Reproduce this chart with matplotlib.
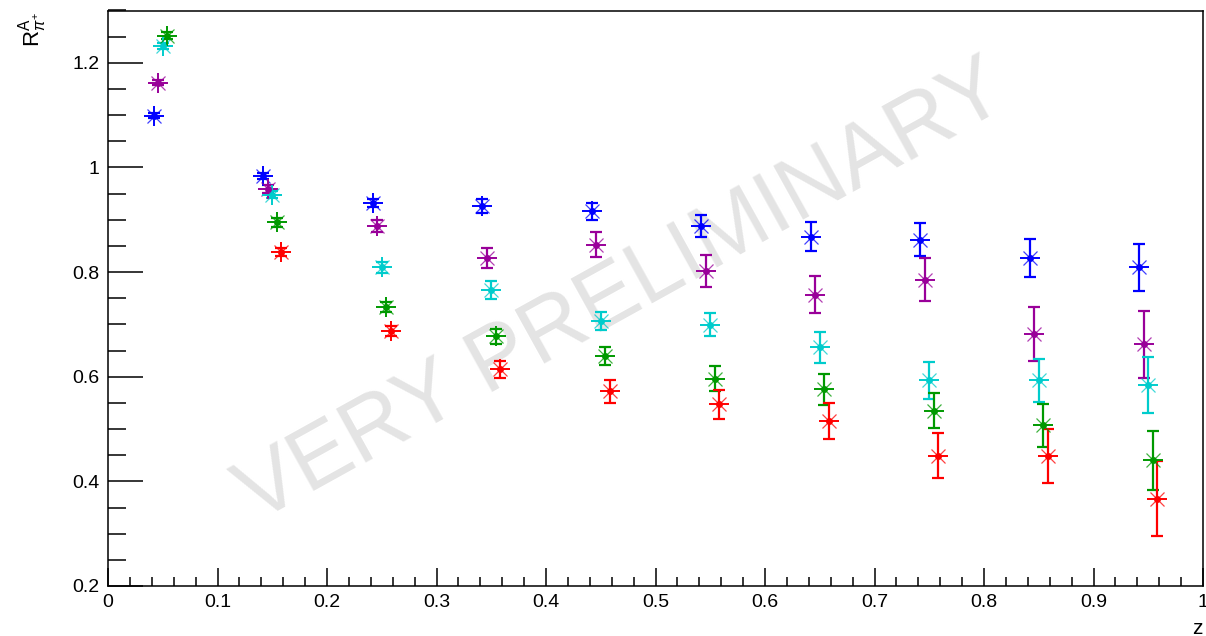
"""
R^A_pi+ vs z, five nuclear targets (ROOT-style preliminary plot)
"""

import numpy as np
import matplotlib
matplotlib.use("Agg")
import matplotlib.pyplot as plt
from matplotlib.ticker import MultipleLocator

plt.rcParams["font.family"] = ["Liberation Sans", "DejaVu Sans"]
plt.rcParams["mathtext.fontset"] = "custom"
plt.rcParams["mathtext.rm"] = "Liberation Sans"
plt.rcParams["mathtext.it"] = "Liberation Sans:italic"


# Data
z_bins = [0.05, 0.15, 0.25, 0.35, 0.45, 0.55, 0.65, 0.75, 0.85, 0.95]

blue = [1.099, 0.983, 0.932, 0.926, 0.916, 0.889, 0.868, 0.862, 0.827, 0.809]
blue_err = [0.005, 0.006, 0.008, 0.014, 0.016, 0.021, 0.028, 0.031, 0.036, 0.045]

purple = [1.162, 0.959, 0.888, 0.827, 0.852, 0.802, 0.757, 0.785, 0.682, 0.662]
purple_err = [0.005, 0.008, 0.012, 0.019, 0.024, 0.030, 0.036, 0.041, 0.052, 0.064]

cyan = [1.232, 0.948, 0.809, 0.766, 0.706, 0.699, 0.656, 0.593, 0.593, 0.584]
cyan_err = [0.006, 0.007, 0.010, 0.017, 0.017, 0.022, 0.029, 0.035, 0.041, 0.053]

green = [1.252, 0.895, 0.733, 0.677, 0.640, 0.596, 0.576, 0.535, 0.507, 0.440]
green_err = [0.006, 0.008, 0.010, 0.015, 0.017, 0.024, 0.030, 0.033, 0.041, 0.056]

# first red point is off the top of the frame
red = [np.nan, 0.839, 0.687, 0.614, 0.572, 0.547, 0.515, 0.449, 0.449, 0.367]
red_err = [np.nan, 0.008, 0.010, 0.016, 0.022, 0.028, 0.034, 0.043, 0.052, 0.072]

series = [
    (blue, blue_err, "#0000ff", -0.008),
    (purple, purple_err, "#990099", -0.004),
    (cyan, cyan_err, "#00cccc", 0.0),
    (green, green_err, "#009900", 0.004),
    (red, red_err, "#ff0000", 0.008),
]


fig = plt.figure(figsize=(12.06, 6.36), dpi=100)
ax = fig.add_axes([108 / 1206, 1 - 586 / 636, 1095 / 1206, (586 - 10.5) / 636])

for vals, errs, col, dx in series:
    x = np.array(z_bins) + dx
    y = np.array(vals)
    ax.errorbar(x, y, yerr=errs, fmt="none", ecolor=col,
                elinewidth=1.6, capsize=4, capthick=1.6, zorder=3)
    # ROOT marker 3: plus + thin diagonals + dot
    ax.plot(x, y, ls="none", marker="+", ms=14, mew=1.4, color=col, zorder=4)
    ax.plot(x, y, ls="none", marker="x", ms=10, mew=0.9, color=col, alpha=0.75, zorder=4)
    ax.plot(x, y, ls="none", marker="o", ms=4, color=col, zorder=5)

ax.set_xlim(0, 1)
ax.set_ylim(0.2, 1.3)

ax.xaxis.set_major_locator(MultipleLocator(0.1))
ax.xaxis.set_minor_locator(MultipleLocator(0.02))
ax.yaxis.set_major_locator(MultipleLocator(0.2))
ax.yaxis.set_minor_locator(MultipleLocator(0.05))

ax.set_xticks(np.arange(0, 1.01, 0.1))
ax.set_xticklabels(["0", "0.1", "0.2", "0.3", "0.4", "0.5", "0.6", "0.7", "0.8", "0.9", "1"])
ax.set_yticks([0.2, 0.4, 0.6, 0.8, 1.0, 1.2])
ax.set_yticklabels(["0.2", "0.4", "0.6", "0.8", "1", "1.2"])

ax.tick_params(axis="both", which="both", direction="in", top=False, right=False,
               labelsize=14, width=1.1, color="black")
ax.tick_params(axis="x", which="major", length=13, pad=6)
ax.tick_params(axis="x", which="minor", length=6.5)
ax.tick_params(axis="y", which="major", length=25, pad=6)
ax.tick_params(axis="y", which="minor", length=13)
for sp in ax.spines.values():
    sp.set_linewidth(1.1)

# Axis titles, ROOT-style at the ends
ax.text(1197 / 1206, 1 - 628 / 636, "z", transform=fig.transFigure,
        ha="center", va="center", fontsize=15)
fig.text(33 / 1206, 1 - 12 / 636, r"$\mathrm{R}^{\mathrm{A}}_{\pi^{+}}$",
         rotation=90, ha="center", va="top", fontsize=16)

# Watermark
ax.text(0.47, 0.76, "VERY PRELIMINARY", transform=ax.transData,
        rotation=29, ha="center", va="center", fontsize=64,
        color="#e4e4e4", zorder=0)

fig.savefig("out.png", dpi=100)
